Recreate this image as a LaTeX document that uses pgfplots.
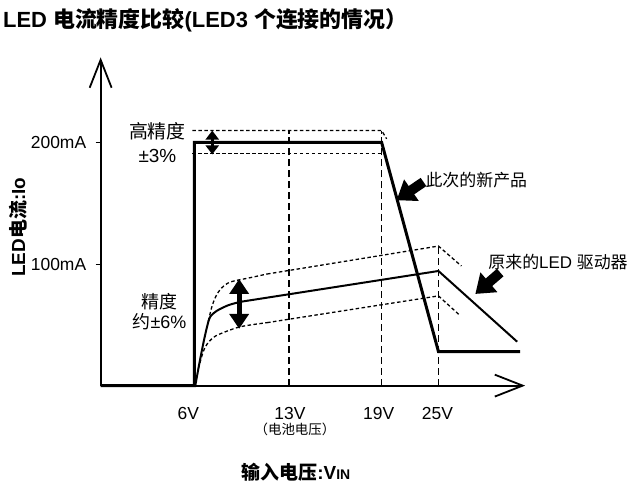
\documentclass[border=0pt]{standalone}
\usepackage{pgfplots}
\pgfplotsset{compat=1.18}
\usetikzlibrary{arrows.meta}
\usepackage{fontspec}
\setmainfont{Liberation Sans}
\newfontfamily\cjk{Noto Sans CJK SC}
\begin{document}
\begin{tikzpicture}
\begin{axis}[
  x=1pt, y=1.22pt, scale only axis,
  xmin=101, xmax=527, ymin=0, ymax=270,
  axis lines=left,
  axis line style={line width=2.2pt},
  x axis line style={-{Straight Barb[length=28pt,width=22pt,line width=1.8pt]}},
  y axis line style={-{Straight Barb[length=28pt,width=22pt,line width=1.8pt]}},
  clip=false,
  xtick={189,291,380,439},
  xticklabels={6V,13V,19V,25V},
  xtick style={draw=none},
  ytick={100,200},
  yticklabels={100mA,200mA},
  ytick style={line width=1pt, black},
  tick align=outside,
  major tick length=5pt,
  tick label style={font=\fontsize{17.5}{17.5}\selectfont},
  xticklabel style={anchor=center, yshift=-23pt},
  yticklabel style={anchor=east, xshift=-6pt},
  dband/.style={black, line width=1.3pt, dash pattern=on 3.5pt off 2.5pt},
  vdash/.style={black, line width=1.2pt, dash pattern=on 7pt off 4pt},
]
% bounding box
\path (axis cs:0,-83.6) rectangle (axis cs:631,317.2);

% vertical guide lines
\addplot[vdash] coordinates {(290,0) (290,209.8)};
\addplot[vdash] coordinates {(383,0) (383,209.8)};
\addplot[vdash] coordinates {(440,0) (440,114.8)};

% new product tolerance band
\addplot[dband] coordinates {(193,209.8) (383,209.8) (388,203)};
\addplot[dband] coordinates {(193,191) (383,191)};

% old driver tolerance band
\addplot[dband, smooth, tension=0.5] coordinates {(209,53) (213,66) (217,74) (222,80) (231,85.2) (250,88.6) (268,91.8)};
\addplot[dband] coordinates {(268,91.8) (440,114.8) (463,98.4)};
\addplot[dband, smooth, tension=0.5] coordinates {(199,14) (204,28) (208,34.4) (214,39.5) (221,42.6) (241,48.4) (268,51.8)};
\addplot[dband] coordinates {(268,51.8) (440,73.8) (462,57.4)};

% old driver
\addplot[black, line width=2pt, smooth, tension=0.5] coordinates {(196,0) (200,18) (205,38.5) (210,54.9) (215,60) (221,63.1) (230,66.4) (241,68.9)};
\addplot[black, line width=2pt] coordinates {(241,68.9) (440,94.3) (519,36.1)};

% new product
\addplot[black, line width=3pt] coordinates {(101,0) (195,0) (195,200) (383,200) (440,28) (522,28)};

% double arrows
\draw[black, line width=3pt, {Triangle[length=9pt,width=13pt]}-{Triangle[length=9pt,width=13pt]}] (axis cs:213,209.8) -- (axis cs:213,190.2);
\draw[black, line width=5pt, {Triangle[length=15pt,width=19pt]}-{Triangle[length=15pt,width=19pt]}] (axis cs:240,87.7) -- (axis cs:240,46.7);

% pointer arrows
\draw[black, line width=10pt, -{Triangle[length=18pt,width=25pt]}] (axis cs:425,167.5) -- (axis cs:398,152.5);
\draw[black, line width=10pt, -{Triangle[length=18pt,width=25pt]}] (axis cs:502,93) -- (axis cs:477,75.4);

% annotations
\node at (axis cs:158,209) {\fontsize{19}{19}\selectfont\cjk 高精度};
\node at (axis cs:158,188.5) {\fontsize{19}{19}\selectfont ±3\%};
\node at (axis cs:160,68.9) {\fontsize{18}{18}\selectfont\cjk 精度};
\node at (axis cs:160,52.5) {\fontsize{18}{18}\selectfont{\cjk 约}±6\%};
\node at (axis cs:478,168.9) {\fontsize{17}{17}\selectfont\cjk 此次的新产品};
\node at (axis cs:560,101.6) {\fontsize{17}{17}\selectfont{\cjk 原来的}LED {\cjk 驱动器}};
\node at (axis cs:296,-36) {\fontsize{13.5}{13.5}\selectfont\cjk （电池电压）};

% titles
\node[anchor=west, inner sep=0pt] at (axis cs:3,300.8) {\fontsize{22}{22}\selectfont\bfseries LED {\cjk\bfseries 电流精度比较}(LED3 {\cjk\bfseries 个连接的情况）}};
\node[rotate=90] at (axis cs:18,130.3) {\fontsize{19}{19}\selectfont\bfseries LED{\cjk\bfseries 电流}:Io};
\node at (axis cs:297,-71.3) {\fontsize{19}{19}\selectfont\bfseries {\cjk\bfseries 输入电压}:V{\fontsize{14}{14}\selectfont IN}};
\end{axis}
\end{tikzpicture}
\end{document}
